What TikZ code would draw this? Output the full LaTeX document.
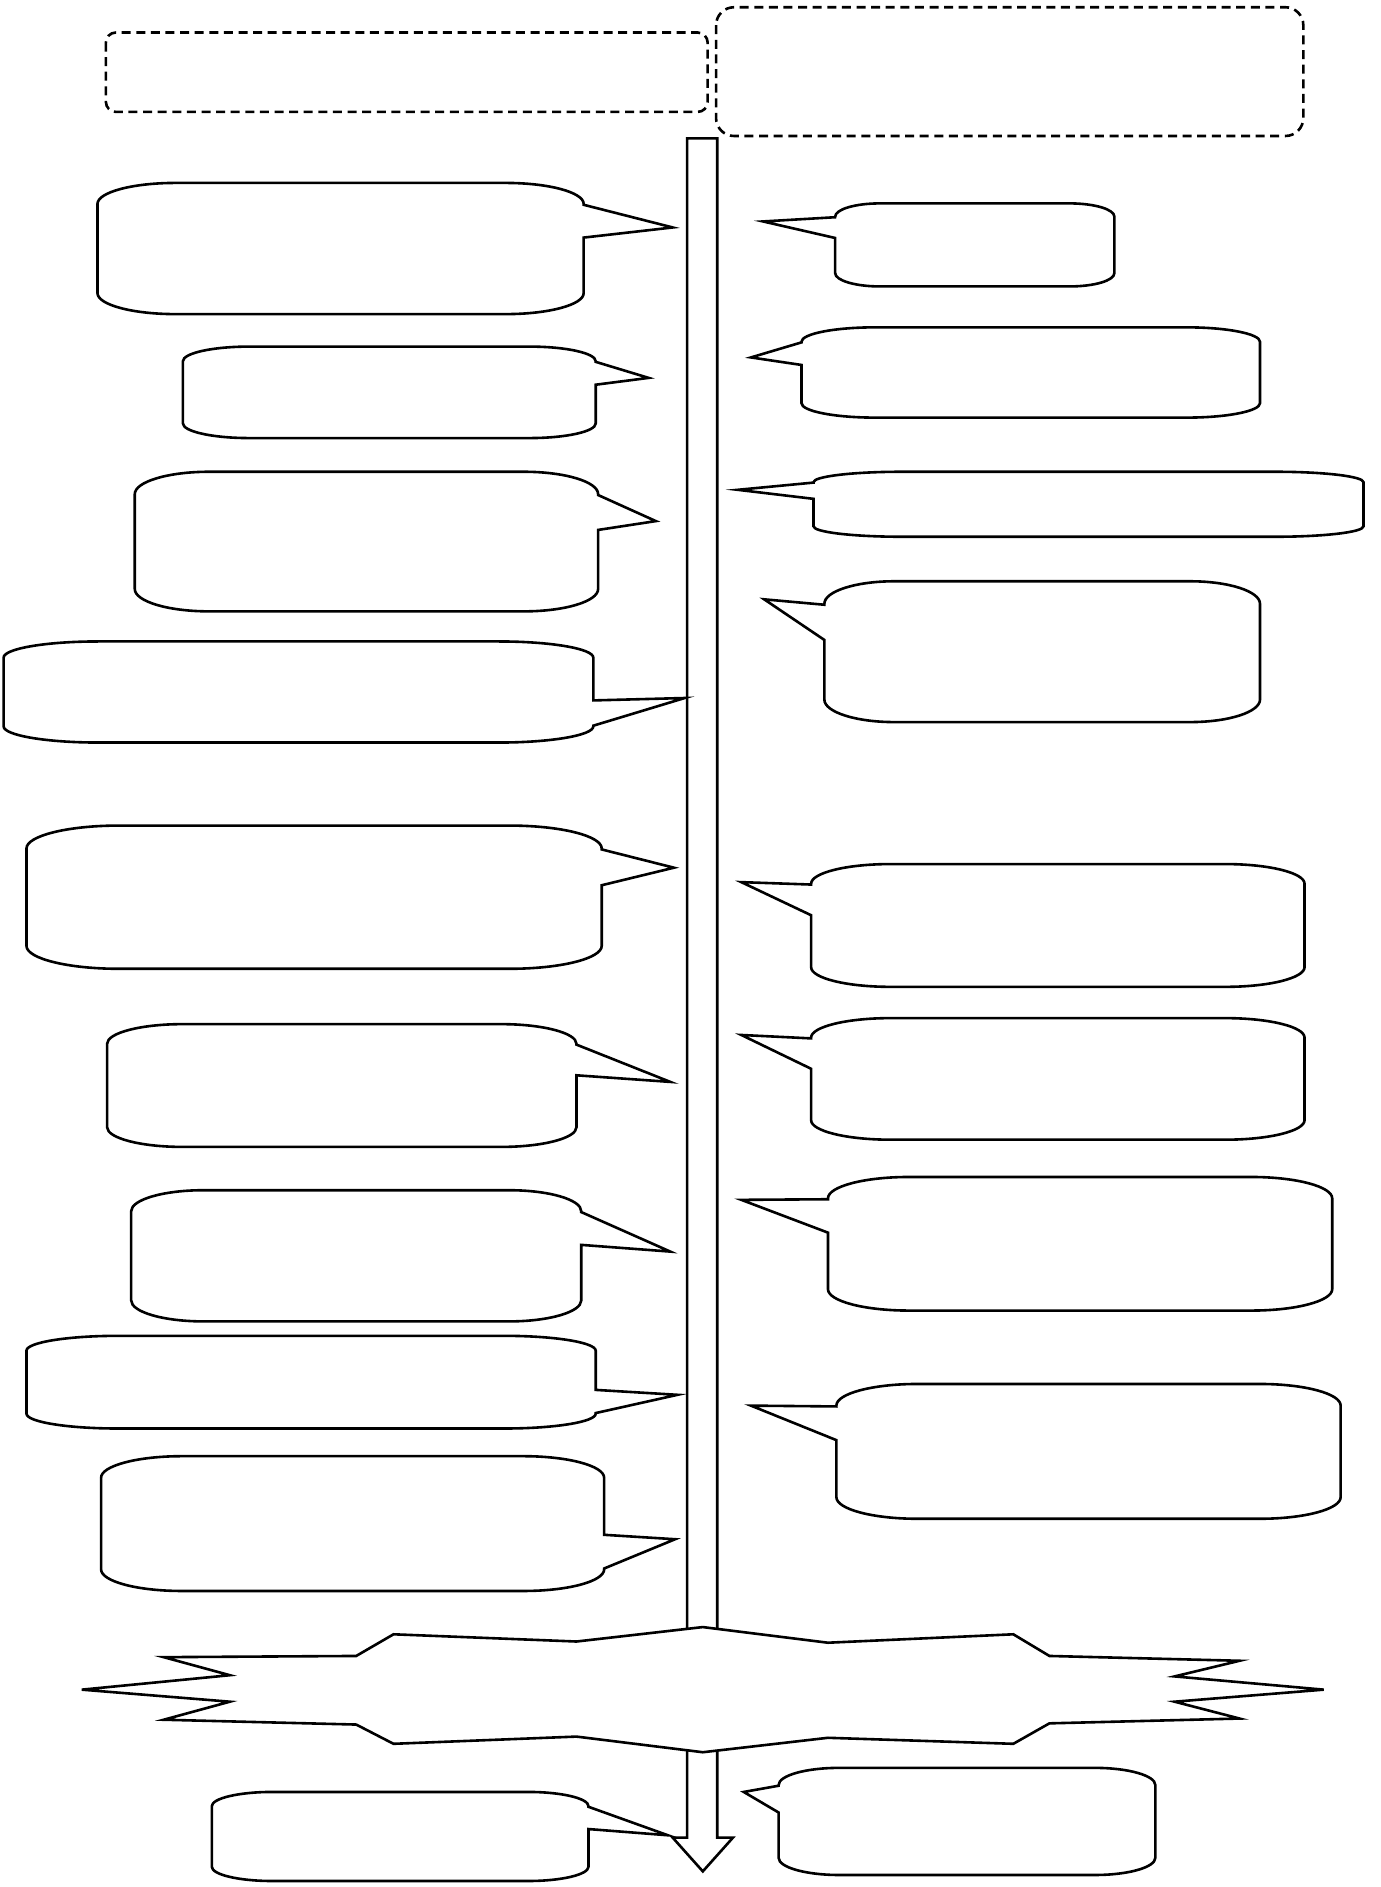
\documentclass[tikz,border=0pt]{standalone}
\usetikzlibrary{calc}
\tikzset{
  shapeline/.style={draw=black, line width=1.3pt, fill=white, line join=miter},
  dashbox/.style={draw=black, line width=1.3pt, dash pattern=on 4.5pt off 2.8pt}
}
% callout with wedge on the right side: x1 y1 x2 y2 tipx tipy
\newcommand\calloutRight[6]{%
  \pgfmathsetmacro\clw{#3-#1}\pgfmathsetmacro\clh{#4-#2}%
  \pgfmathsetmacro\clrx{0.16*\clw}\pgfmathsetmacro\clry{0.16*\clh}%
  \pgfmathsetmacro\clkx{0.448*\clrx}\pgfmathsetmacro\clky{0.448*\clry}%
  \pgfmathsetmacro\clcy{(#2+#4)/2}%
  \pgfmathsetmacro\clba{#6<\clcy ? #2+\clh*2/12 : #2+\clh*7/12}%
  \pgfmathsetmacro\clbb{#6<\clcy ? #2+\clh*5/12 : #2+\clh*10/12}%
  \draw[shapeline] (#1+\clrx,#2) -- (#3-\clrx,#2)
    .. controls (#3-\clkx,#2) and (#3,#2+\clky) .. (#3,#2+\clry)
    -- (#3,\clba) -- (#5,#6) -- (#3,\clbb) -- (#3,#4-\clry)
    .. controls (#3,#4-\clky) and (#3-\clkx,#4) .. (#3-\clrx,#4)
    -- (#1+\clrx,#4)
    .. controls (#1+\clkx,#4) and (#1,#4-\clky) .. (#1,#4-\clry)
    -- (#1,#2+\clry)
    .. controls (#1,#2+\clky) and (#1+\clkx,#2) .. cycle;%
}
% callout with wedge on the left side: x1 y1 x2 y2 tipx tipy
\newcommand\calloutLeft[6]{%
  \pgfmathsetmacro\clw{#3-#1}\pgfmathsetmacro\clh{#4-#2}%
  \pgfmathsetmacro\clrx{0.16*\clw}\pgfmathsetmacro\clry{0.16*\clh}%
  \pgfmathsetmacro\clkx{0.448*\clrx}\pgfmathsetmacro\clky{0.448*\clry}%
  \pgfmathsetmacro\clcy{(#2+#4)/2}%
  \pgfmathsetmacro\clba{#6<\clcy ? #2+\clh*2/12 : #2+\clh*7/12}%
  \pgfmathsetmacro\clbb{#6<\clcy ? #2+\clh*5/12 : #2+\clh*10/12}%
  \draw[shapeline] (#1+\clrx,#2) -- (#3-\clrx,#2)
    .. controls (#3-\clkx,#2) and (#3,#2+\clky) .. (#3,#2+\clry)
    -- (#3,#4-\clry)
    .. controls (#3,#4-\clky) and (#3-\clkx,#4) .. (#3-\clrx,#4)
    -- (#1+\clrx,#4)
    .. controls (#1+\clkx,#4) and (#1,#4-\clky) .. (#1,#4-\clry)
    -- (#1,\clbb) -- (#5,#6) -- (#1,\clba) -- (#1,#2+\clry)
    .. controls (#1,#2+\clky) and (#1+\clkx,#2) .. cycle;%
}
\begin{document}
\begin{tikzpicture}[x=0.60157pt, y=-0.60157pt]
\useasboundingbox (0,0) rectangle (1147,1568);
\fill[white] (0,0) rectangle (1147,1568);

% dashed header boxes
\draw[dashbox, rounded corners=5pt] (88,27) rectangle (588,93);
\draw[dashbox, rounded corners=9pt] (595,6) rectangle (1083,113);

% central timeline arrow
\draw[shapeline] (571,115) -- (596,115) -- (596,1527) -- (609,1527) -- (584,1555)
  -- (559,1527) -- (571,1527) -- cycle;

% left column callouts (wedge to the right)
\calloutRight{81}{152}{485}{261}{559}{189}
\calloutRight{152}{288}{495}{364}{539}{314}
\calloutRight{112}{392}{497}{508}{545}{433}
\calloutRight{3}{533}{493}{617}{569}{580}
\calloutRight{22}{686}{500}{805}{560}{721}
\calloutRight{89}{851}{479}{953}{557}{899}
\calloutRight{109}{989}{483}{1098}{557}{1040}
\calloutRight{22}{1110}{495}{1187}{563}{1159}
\calloutRight{84}{1210}{502}{1322}{561}{1279}
\calloutRight{176}{1489}{489}{1563}{555}{1525}

% right column callouts (wedge to the left)
\calloutLeft{694}{169}{926}{238}{634}{184}
\calloutLeft{666}{272}{1047}{347}{624}{297}
\calloutLeft{676}{392}{1133}{446}{613}{407}
\calloutLeft{685}{483}{1047}{600}{635}{498}
\calloutLeft{674}{718}{1084}{820}{616}{733}
\calloutLeft{674}{846}{1084}{947}{616}{860}
\calloutLeft{688}{978}{1107}{1089}{616}{997}
\calloutLeft{695}{1150}{1114}{1262}{624}{1168}
\calloutLeft{647}{1469}{960}{1558}{618}{1489}

% explosion shape
\draw[shapeline] (584,1352) -- (688,1365) -- (842,1358) -- (872,1376) -- (1030,1380)
  -- (976,1393) -- (1100,1404) -- (976,1414) -- (1030,1428) -- (872,1432)
  -- (842,1449) -- (688,1444) -- (584,1456) -- (479,1443) -- (327,1449)
  -- (296,1433) -- (136,1429) -- (191,1414) -- (68,1404) -- (191,1392)
  -- (136,1377) -- (296,1376) -- (327,1358) -- (479,1364) -- cycle;
\end{tikzpicture}
\end{document}
